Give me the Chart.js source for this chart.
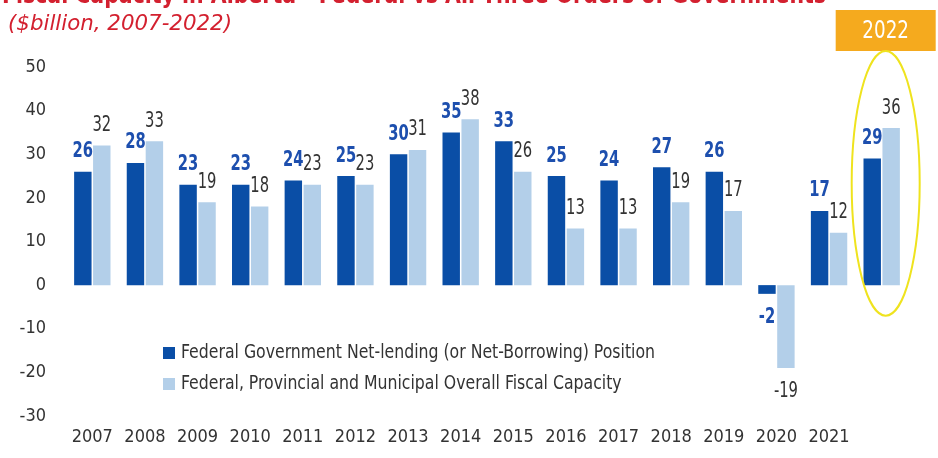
<!DOCTYPE html>
<html>
<head>
<meta charset="utf-8">
<script src="https://cdn.jsdelivr.net/npm/chart.js@4.4.1/dist/chart.umd.min.js"></script>
<style>
  html, body { margin: 0; padding: 0; background: #ffffff; overflow: hidden; }
  #wrap { position: relative; width: 938px; height: 458px; }
</style>
</head>
<body>
<div id="wrap"><canvas id="chart" width="938" height="458"></canvas></div>
<script>
// Fiscal capacity in Alberta, $billion
const categories = ['2007', '2008', '2009', '2010', '2011', '2012', '2013', '2014',
                    '2015', '2016', '2017', '2018', '2019', '2020', '2021', '2022'];
const federalNetLending = [26, 28, 23, 23, 24, 25, 30, 35, 33, 25, 24, 27, 26, -2, 17, 29];
const overallCapacity   = [32, 33, 19, 18, 23, 23, 31, 38, 26, 13, 13, 19, 17, -19, 12, 36];
const yTickValues = [50, 40, 30, 20, 10, 0, -10, -20, -30];
const highlightYear = '2022';
const seriesNames = [
  'Federal Government Net-lending (or Net-Borrowing) Position',
  'Federal, Provincial and Municipal Overall Fiscal Capacity'
];
const titleText = 'Fiscal Capacity in Alberta - Federal vs All Three Orders of Governments';
const subtitleText = '($billion, 2007-2022)';

const FONT = '"DejaVu Sans Condensed", "Liberation Sans Narrow", sans-serif';
const DARK = '#0a4ea6';
const LIGHT = '#b3cfe9';
const RED = '#d3202f';
const TEXT = '#333333';
const LABEL_BLUE = '#1d4fae';

// Draws text squeezed horizontally by factor sx around its anchor
function squeezedText(ctx, text, x, y, sx) {
  ctx.save();
  ctx.translate(x, y);
  ctx.scale(sx, 1);
  ctx.fillText(text, 0, 0);
  ctx.restore();
}

// Value labels above (or below) each bar
const valueLabels = {
  id: 'valueLabels',
  afterDatasetsDraw(chart) {
    const ctx = chart.ctx;
    ctx.save();
    ctx.textAlign = 'center';
    ctx.textBaseline = 'middle';
    chart.data.datasets.forEach((ds, di) => {
      const meta = chart.getDatasetMeta(di);
      ctx.font = (di === 0 ? 'bold ' : '') + '21px ' + FONT;
      ctx.fillStyle = di === 0 ? LABEL_BLUE : TEXT;
      meta.data.forEach((bar, i) => {
        const v = ds.data[i];
        const y = v >= 0 ? bar.y - 20 : bar.y + 24;
        squeezedText(ctx, String(v), bar.x, y, 0.78);
      });
    });
    ctx.restore();
  }
};

// Title, subtitle, legend and the highlighted year
const decorations = {
  id: 'decorations',
  afterDraw(chart) {
    const ctx = chart.ctx;
    const x = chart.scales.x;
    const y = chart.scales.y;
    ctx.save();

    // title (runs off the top edge) and subtitle
    ctx.fillStyle = RED;
    ctx.textAlign = 'left';
    ctx.textBaseline = 'alphabetic';
    ctx.font = 'bold 24px ' + FONT;
    squeezedText(ctx, titleText, 2, 3, 824 / ctx.measureText(titleText).width);
    ctx.font = 'oblique 21px ' + FONT;
    squeezedText(ctx, subtitleText, 8, 30, 224 / ctx.measureText(subtitleText).width);

    // legend inside the plot
    const legendX = 163;
    const rows = [353, 384];
    ctx.font = '20px ' + FONT;
    const legendScale = 474 / ctx.measureText(seriesNames[0]).width;
    [DARK, LIGHT].forEach((col, i) => {
      ctx.fillStyle = col;
      ctx.fillRect(legendX, rows[i] - 6, 12, 12);
      ctx.fillStyle = TEXT;
      ctx.textBaseline = 'middle';
      squeezedText(ctx, seriesNames[i], legendX + 18, rows[i], legendScale);
    });

    // highlighted year: label box and ellipse
    const idx = categories.indexOf(highlightYear);
    const cx = x.getPixelForValue(idx) + 4;
    const boxW = 100, boxTop = 10, boxBottom = 51;
    ctx.fillStyle = '#f5aa1e';
    ctx.fillRect(cx - boxW / 2, boxTop, boxW, boxBottom - boxTop);
    ctx.fillStyle = '#ffffff';
    ctx.font = '24px ' + FONT;
    ctx.textAlign = 'center';
    ctx.textBaseline = 'middle';
    squeezedText(ctx, highlightYear, cx, (boxTop + boxBottom) / 2 + 1, 0.85);

    const top = boxBottom;
    const bottom = y.getPixelForValue(-7);
    ctx.strokeStyle = '#efe31e';
    ctx.lineWidth = 2;
    ctx.beginPath();
    ctx.ellipse(cx, (top + bottom) / 2, 34, (bottom - top) / 2, 0, 0, Math.PI * 2);
    ctx.stroke();

    ctx.restore();
  }
};

new Chart(document.getElementById('chart'), {
  type: 'bar',
  data: {
    labels: categories,
    datasets: [
      { label: seriesNames[0], data: federalNetLending, backgroundColor: DARK,
        categoryPercentage: 0.72, barPercentage: 0.92 },
      { label: seriesNames[1], data: overallCapacity, backgroundColor: LIGHT,
        categoryPercentage: 0.72, barPercentage: 0.92 }
    ]
  },
  options: {
    responsive: false,
    animation: false,
    devicePixelRatio: 1,
    layout: { padding: { top: 67, right: 30, bottom: 0, left: 0 } },
    plugins: {
      legend: { display: false },
      tooltip: { enabled: false },
      title: { display: false }
    },
    scales: {
      x: {
        grid: { display: false, drawTicks: false },
        border: { display: false },
        ticks: {
          padding: 11,
          color: TEXT,
          font: { family: FONT, size: 18 },
          maxRotation: 0,
          autoSkip: false,
          callback: function (value) {
            const lab = this.getLabelForValue(value);
            return lab === highlightYear ? '' : lab;
          }
        },
        afterFit(scale) { scale.height = 42; }
      },
      y: {
        min: -30,
        max: 50,
        grid: { display: false, drawTicks: false },
        border: { display: false },
        afterBuildTicks(scale) { scale.ticks = yTickValues.map(v => ({ value: v })); },
        ticks: {
          padding: 20,
          color: TEXT,
          font: { family: FONT, size: 18 }
        },
        afterFit(scale) { scale.width = 66; }
      }
    }
  },
  plugins: [valueLabels, decorations]
});
</script>
</body>
</html>
